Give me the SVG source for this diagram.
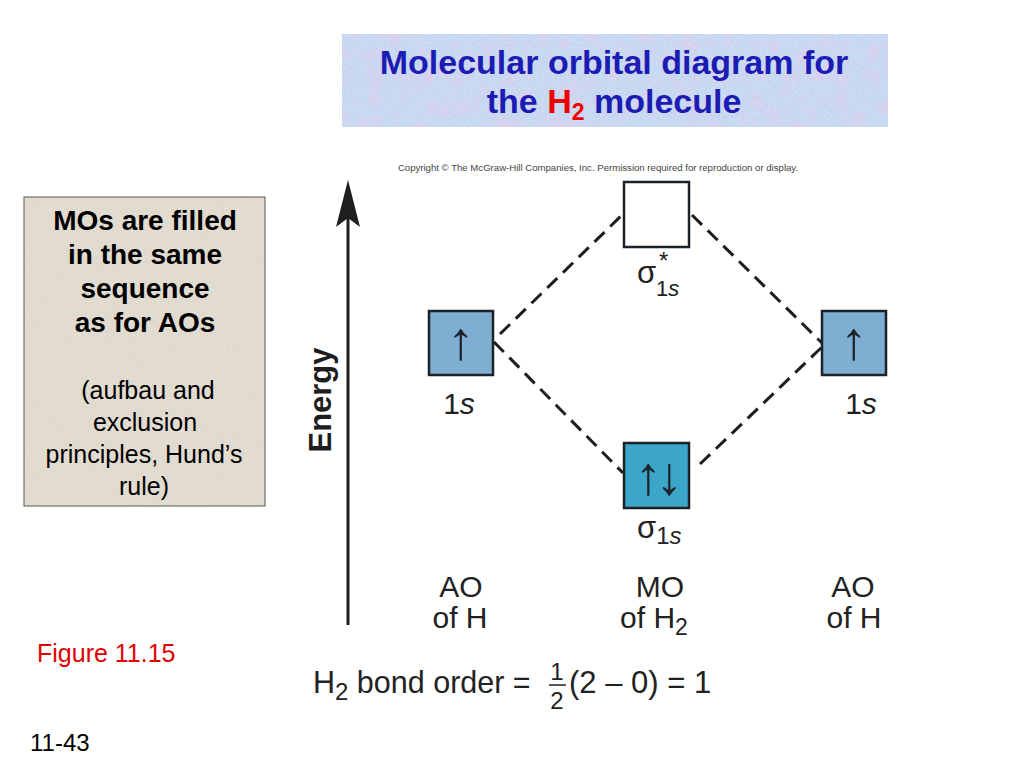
<svg xmlns="http://www.w3.org/2000/svg" width="1024" height="768" viewBox="0 0 1024 768">
<defs>
<style>
.sans{font-family:"Liberation Sans",Arial,sans-serif}
.title{font-family:"Liberation Sans",Arial,sans-serif;font-weight:bold;font-size:34px;fill:#1c1cb4;text-anchor:middle}
.note-b{font-family:"Liberation Sans",Arial,sans-serif;font-weight:bold;font-size:28px;fill:#000;text-anchor:middle}
.note{font-family:"Liberation Sans",Arial,sans-serif;font-size:25px;fill:#000;text-anchor:middle}
.lbl{font-family:"Liberation Sans",Arial,sans-serif;font-size:30px;fill:#222;text-anchor:middle}
.sig{font-family:"Liberation Sans",Arial,sans-serif;font-size:31px;fill:#222;text-anchor:start}
.orb{stroke:#1b2328;stroke-width:2.5}
.spin{font-family:"Liberation Sans","DejaVu Sans",sans-serif;font-size:54px;fill:#1b2328;text-anchor:middle}
.dash{stroke:#1e1e1e;stroke-width:3;stroke-dasharray:14 8;fill:none}
</style>
<filter id="texBlue" x="0" y="0" width="100%" height="100%" color-interpolation-filters="sRGB">
<feTurbulence type="fractalNoise" baseFrequency="0.06" numOctaves="3" seed="4" result="n"/>
<feColorMatrix in="n" type="matrix" values="0 0 0 0 0.90  0 0 0 0 0.78  0 0 0 0 0.90  1.6 0 0 0 -0.72" result="pink"/>
<feComposite in="pink" in2="SourceGraphic" operator="atop" result="a"/>
<feTurbulence type="fractalNoise" baseFrequency="0.5" numOctaves="2" seed="9" result="n2"/>
<feColorMatrix in="n2" type="matrix" values="0 0 0 0 0.86  0 0 0 0 0.92  0 0 0 0 1  1.4 0 0 0 -0.6" result="lt"/>
<feComposite in="lt" in2="a" operator="atop"/>
</filter>
<filter id="texBeige" x="0" y="0" width="100%" height="100%" color-interpolation-filters="sRGB">
<feTurbulence type="fractalNoise" baseFrequency="0.7" numOctaves="2" seed="7" result="n"/>
<feColorMatrix in="n" type="matrix" values="0 0 0 0 0.93  0 0 0 0 0.91  0 0 0 0 0.87  1.6 0 0 0 -0.75" result="sp"/>
<feComposite in="sp" in2="SourceGraphic" operator="atop"/>
</filter>
</defs>
<rect width="1024" height="768" fill="#ffffff"/>

<g id="title">
<rect x="342" y="34" width="546" height="93" fill="#c5d6f0" filter="url(#texBlue)"/>
<text class="title" x="614" y="74">Molecular orbital diagram for</text>
<text class="title" x="614" y="113">the <tspan fill="#ee0000">H<tspan font-size="23px" dy="7">2</tspan></tspan><tspan dy="-7"> molecule</tspan></text>
</g>

<text class="sans" x="598" y="171" font-size="9.6px" fill="#444" text-anchor="middle">Copyright © The McGraw-Hill Companies, Inc. Permission required for reproduction or display.</text>

<g id="note">
<rect x="24" y="197" width="241" height="309" fill="#e0d9ce" filter="url(#texBeige)"/>
<rect x="24" y="197" width="241" height="309" fill="none" stroke="#555" stroke-width="1"/>
<text class="note-b" x="145" y="230">MOs are filled</text>
<text class="note-b" x="145" y="264">in the same</text>
<text class="note-b" x="145" y="298">sequence</text>
<text class="note-b" x="145" y="332">as for AOs</text>
<text class="note" x="148" y="399">(aufbau and</text>
<text class="note" x="145" y="431">exclusion</text>
<text class="note" x="144" y="463">principles, Hund’s</text>
<text class="note" x="144" y="495">rule)</text>
</g>

<g id="energy-axis">
<line x1="348" y1="625" x2="348" y2="215" stroke="#1e1e1e" stroke-width="3"/>
<path d="M348 180 L360 227 L348 218 L336 227 Z" fill="#1e1e1e"/>
<text transform="translate(331,400) rotate(-90)" class="sans" font-weight="bold" font-size="31px" fill="#1e1e1e" text-anchor="middle">Energy</text>
</g>

<g id="connectors">
<line class="dash" x1="500" y1="334" x2="622" y2="215"/>
<line class="dash" x1="692" y1="215" x2="822" y2="343"/>
<line class="dash" x1="494" y1="342" x2="623" y2="473"/>
<line class="dash" x1="700" y1="464" x2="822" y2="347"/>
</g>

<g id="ao-left">
<rect class="orb" x="429" y="311" width="64" height="64" fill="#7eaed2"/>
<text class="spin" x="461" y="359">↑</text>
<text class="lbl" x="459" y="414" font-size="31px">1<tspan font-style="italic">s</tspan></text>
</g>

<g id="ao-right">
<rect class="orb" x="822" y="311" width="64" height="64" fill="#7eaed2"/>
<text class="spin" x="854" y="359">↑</text>
<text class="lbl" x="861" y="414" font-size="31px">1<tspan font-style="italic">s</tspan></text>
</g>

<g id="mo-antibonding">
<rect class="orb" x="624" y="182" width="65" height="65" fill="#ffffff"/>
<text class="sig" x="637" y="283">σ<tspan x="659" dy="-14" font-size="24px">*</tspan><tspan x="656" dy="27" font-size="22px">1<tspan font-style="italic">s</tspan></tspan></text>
</g>

<g id="mo-bonding">
<rect class="orb" x="624" y="443" width="65" height="65" fill="#3ba6c7"/>
<text class="spin" x="656" y="494" font-size="56px" letter-spacing="-6">↑↓</text>
<text class="sig" x="637" y="538">σ<tspan font-size="24px" dy="6">1<tspan font-style="italic">s</tspan></tspan></text>
</g>

<g id="column-labels">
<text class="lbl" x="461" y="597">AO</text>
<text class="lbl" x="460" y="628">of H</text>
<text class="lbl" x="660" y="597">MO</text>
<text class="lbl" x="654" y="628">of H<tspan font-size="23px" dy="7">2</tspan></text>
<text class="lbl" x="853" y="597">AO</text>
<text class="lbl" x="854" y="628">of H</text>
</g>

<g id="bond-order">
<text class="sans" x="313" y="693" font-size="30.5px" fill="#222">H<tspan font-size="24px" dy="7">2</tspan><tspan dy="-7"> bond order =</tspan></text>
<text class="sans" x="557" y="680" font-size="24px" fill="#222" text-anchor="middle">1</text>
<line x1="549" y1="685" x2="566" y2="685" stroke="#222" stroke-width="1.5"/>
<text class="sans" x="557" y="709" font-size="24px" fill="#222" text-anchor="middle">2</text>
<text class="sans" x="569" y="693" font-size="31px" fill="#222">(2 – 0) = 1</text>
</g>

<text class="sans" x="37" y="662" font-size="25px" fill="#e00000">Figure 11.15</text>
<text class="sans" x="30" y="751" font-size="24px" fill="#000">11-43</text>
</svg>
